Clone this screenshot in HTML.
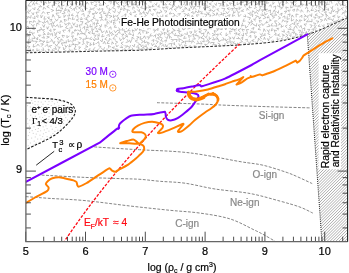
<!DOCTYPE html>
<html><head><meta charset="utf-8"><style>
html,body{margin:0;padding:0;background:#fff;width:349px;height:273px;overflow:hidden}
svg{display:block;font-family:"Liberation Sans",sans-serif;will-change:transform}
</style></head><body>
<svg width="349" height="273" viewBox="0 0 349 273">
<defs><clipPath id="cp"><polygon points="25.9,0.4 347.6,0.4 347.6,17.6 320,29.9 307.3,34.4 280,41 240,44.9 180,47.9 140,50.2 100,51.1 65,52 25.9,52.8"/></clipPath>
<clipPath id="ch"><polygon points="307.3,34.4 320,29.9 347.6,17.6 347.6,241.7 321.9,241.7"/></clipPath>
<clipPath id="plot"><rect x="25.9" y="0.4" width="321.7" height="241.3"/></clipPath></defs>
<rect width="349" height="273" fill="#fff"/>
<path d="M128.45,3.93L127.95,6.95L130.56,6.57M135.02,8.44L133.04,6.73L132.68,9.45M132.77,12.5L135.81,12L133.75,10.37M129.84,10.51L127.33,9.66L127.34,12.78M134.54,2.32L132.88,5.01L135.78,4.44M137.7,2.33L139.95,3.66L139.26,1.25M126.54,9.57L123.93,8.29L123.84,11M129.19,13.44L131.27,15.06L130.63,11.85M129.76,3.58L129.83,0.89L127.18,1.84M139,4.56L136.65,6.56L138.99,8.12M137.21,9.47L139.19,11.66L139.65,9.18M142.48,5.88L140.71,7.72L143.67,8.52M125.56,17.17L127.49,19.45L128.52,16.48M136.8,14.38L134.43,16.05L136.73,17.06M124.61,3.87L126.82,2.02L123.86,1.75M122.45,22.98L125.07,24.41L124.9,21.25M131.74,19.92L133.71,18.34L130.5,17.77M125.29,16.95L126.02,13.76L123.63,15.48M122.99,5.1L124.08,7.48L125.62,4.94M117.52,11.81L119.39,13.54L120.43,10.91M130.29,-2.75L129.73,0.21L132.67,-0.76M139.95,20L138.75,17.2L136.6,19.63M118.54,8.46L119.59,5.84L116.97,7.01M112.46,10.94L114.78,12.54L115.58,9.43M147.03,4.4L144.65,2.17L144.45,4.74M137.02,-0.54L134.52,0.63L136.66,2.42M128.06,24.33L130.31,22.46L127.37,22.44M126.45,28.9L126.63,26.04L123.72,27.07M137.49,-1.29L140.36,-0.34L139.08,-3.23M132.68,25.09L130.72,26.91L133.65,26.98M118.66,14.67L116.5,16.25L119.11,18.14M124.86,0.56L127.84,-0.66L125.63,-1.97M144.21,10.62L142.71,12.96L145.25,12.75M121.86,21.53L119.02,21.69L120.55,24.01M113.7,14.73L113.39,17.56L115.91,15.51M146.01,-1.57L148.82,-2.26L146.83,-4.15M122.48,15.72L121.15,18.2L124.13,17.24M115.44,25.01L114.28,27.25L116.86,27.34M120.23,20.24L118.04,18.2L116.68,21.08M115.81,23.47L113.4,22.04L113.96,25.16M150.78,11.54L149.89,8.95L148.8,11.58M122.88,27.5L121.87,30.14L125,29.94M144.16,9.02L147.14,7.9L145.08,5.75M148.12,7.99L150.84,7.04L148.15,5.75M134.63,19.55L135.39,22.03L137.04,19.71M123.25,3.51L121.92,0.57L120.36,3.2M136.05,26.88L138.36,25.9L135.57,24.83M143.55,2.36L142.52,-0.49L140.88,2.28M142.27,25.06L139.57,23.4L139.03,26.29M134.48,-1.02L135.77,-3.69L132.68,-2.81M122.84,-2.72L119.94,-1.77L121.47,0.25M153.15,4.47L151.84,6.91L154.38,6.06M120.06,26.31L122.54,27.35L122.37,24.2M144.22,16.88L146.45,15.43L144.24,13.71M134.56,23.38L132.51,21.9L132.44,24.63M150.71,13.47L152.73,15.62L153.29,12.98M121.48,7.22L120.38,9.91L122.71,8.83M139.02,13.99L141.73,14.03L139.74,11.91M143.83,19.4L141.31,21.47L144.24,22.57M149.16,21.24L146.92,23.48L149.57,23.7M134.79,28.21L135.94,30.68L137.78,28.04M114.05,30.25L115.42,32.68L117.53,30.22M129.57,28.44L127.77,30.55L130.72,30.91M116.84,3.82L115.71,1.03L113.41,2.88M109.39,30.55L109.97,33.62L112.48,31.76M149.28,18.53L151.3,20.26L152.33,17.54M156.47,9.26L153.36,9.44L155.64,11.17M124.8,35.46L127.52,37.05L126.48,34.04M131.35,34.29L133.42,36.06L133.46,33.48M111.25,29.56L110.76,26.76L108.39,28.83M110.69,13.65L108.67,11.67L107.5,14.6M159.01,12.69L162.09,11.82L159.9,9.75M129.26,39.83L130.55,42.59L131.54,39.99M125.7,42.55L128.51,41.67L126.88,39.18M145.43,26.17L142.9,25.25L143.42,28.35M134.8,31.09L132.21,29.87L133.09,32.83M117.32,30.39L120.29,30.13L118.56,27.56M122.44,19.91L125.3,20.99L125.13,18.3M108.32,15.14L105.37,15.31L107.78,17.32M127.62,31.87L124.43,31.28L125.6,34.07M159.8,4.83L157.71,6.52L160.23,7.23M148.71,0.88L151.22,2.49L150.8,-0.06M109.09,20.54L111.24,22.73L111.76,20.14M143.26,18.94L141.81,15.98L140.74,19.04M107.54,32.98L106.65,30.48L105.46,33.55M109.31,36.97L109.16,34.43L106.52,35.5M140.76,34.98L139.51,32.1L138.14,34.46M113.24,-2.09L110.82,-1.01L113.25,0.77M111.63,40.3L109.65,38.28L108.8,41.37M121.91,36.35L123.83,34.01L121.27,34.45M154.36,3.42L156.31,5.31L157.01,2.57M145.58,31.04L142.68,30.58L143.16,33.33M151.61,-3.18L152.87,-0.26L154.24,-2.92M142.23,-1.37L144.86,-1.86L143.31,-3.84M114.27,34.98L112.16,33.42L111.67,35.9M127.11,45.64L129.64,47.58L130.54,45.11M120.21,33.91L119.43,31.52L117.33,33.92M136.52,38.63L139.18,37.25L136.57,36.45M146.33,12.03L147.57,14.23L148.57,11.45M134.47,39.27L132.21,36.95L131.82,40.03M150.46,29.29L148.66,26.81L147.78,29.89M142.15,30.37L139.2,29.09L140.14,31.42M146.99,30.85L146.19,33.47L149.01,32.2M108.55,40.79L107.01,43.35L109.54,43.47M115.02,36.21L113.01,38.78L115.73,39.3M107.52,26.49L104.86,24.8L105.32,27.69M145.77,38.79L144.48,35.86L143.01,38.35M152.55,24.6L155.07,24.55L152.67,22.45M128.11,33.8L130.55,34.5L129.43,32.1M131.97,45.11L134.16,46.86L134.71,43.98M109.44,17.99L111.95,16.16L108.77,15.33M114.89,5.59L112.46,7.78L115.4,8.99M117.14,1L117.92,-1.51L114.99,-0.7M119.46,37.68L120.45,40.75L122.56,38.47M100.97,29.57L101.92,32.69L104.54,30.98M165.24,13.25L166.9,10.95L163.94,10.8M102.88,34.01L101.66,36.93L104.54,36.08M119.26,1.89L117.05,3.55L119.15,4.94M107.23,36.99L104.78,39.06L107.33,40.44M99.19,17.6L102.13,17.46L100.96,14.89M156.35,18.56L159.07,17.31L156.8,15.24M154.05,32.63L155.44,30.01L152.87,29.95M146.33,17L146.49,19.55L148.24,17.31M153.74,28.28L152.41,25.78L150.58,27.53M130.02,49.39L133.27,49.88L131.96,47.64M156.62,22.48L155.89,19.32L153.6,20.83M162.75,23.55L161.54,20.99L159.41,23.5M159.93,24.59L160.19,27.32L162.96,25.55M157.73,31.02L158.2,28.39L155.77,30.27M113.81,43.91L112.21,41.77L111.69,44.6M96.62,34.37L99.23,36.17L99.1,33.26M138.04,39.7L135.17,41L137.27,42.56M112.69,20.17L115.08,21.16L114.79,18.2M141.09,43.12L143.44,41.63L141.08,39.92M140.73,36.25L140.03,39.39L142.73,38.5M138.05,49.27L139.04,46.94L135.92,47.07M115.76,44.42L116.83,46.87L118.55,44.92M158.35,25.19L156.38,23.4L155.84,26.6M125.49,48.04L127.33,46.16L124.49,45.79M105.55,44.28L104.51,41.35L102.95,44M159.99,-0.56L161.24,2.49L162.57,-0.16M155.48,37.56L155.57,34.74L153.24,36.56M119.76,50.36L121.96,51.91L122.48,49.17M122.88,36.56L123.49,39.34L125.71,37.27M104.04,11.02L103.68,13.59L106.25,13.21M110.66,4.23L111.51,1.49L108.45,1.88M100,40.23L102.1,41.75L102.62,38.71M109.39,23.65L107.1,21.42L107.03,24.67M119.79,47.2L122.7,47.77L121.21,45.36M159.66,13.65L157.15,11.91L156.87,14.4M123.44,41.82L120.99,43.12L123.39,45.18M160.16,15.87L162.65,17.7L162.85,14.56M167.63,14.83L165.12,15.99L168.05,17.34M117.8,34.49L115.25,35.06L117.4,37.21M126.66,51L124.7,48.59L123.03,51.08M118.55,49.51L115.35,48.82L116.43,51.42M108.78,5.32L105.97,6.5L108.14,8.64M114.92,46.89L112.2,47.51L114.55,48.89M156.62,33.73L158.41,35.7L159.31,33.04M163.26,31.18L164.53,28.73L162.11,29.5M107.03,48.47L106.96,51.47L109.5,50.44M115.04,43.97L117.65,42.09L114.87,40.58M166.67,21.69L165.59,18.68L163.54,20.86M106.31,17.45L104.9,20.05L107.43,19.82M151.15,33.48L149.77,36.22L152.69,35.55M167.27,29.09L167.5,32.19L169.45,30.02M173.94,18.75L171.66,17.68L171.82,20.19M109.38,7.88L109.07,10.6L111.56,8.93M101.11,47.97L103.49,50.13L104.59,47.21M148.12,39.53L149.41,37.02L146.62,36.91M106.12,3.94L103.67,1.91L103.17,5.13M104.52,-2.27L103.24,0.76L105.92,-0.16M165.46,8.05L162.49,7.06L163.75,9.7M169.08,1.6L167.55,-0.77L167.04,2.39M144.55,39.86L144.59,42.84L147.09,41.73M103.36,20.77L101.54,18.54L100.59,21.07M106.22,-3.49L108.23,-1.45L108.32,-4.29M99.15,24.99L100.89,27.05L101.63,24.22M111.2,47.12L108.42,45.43L108.79,48.3M153.19,42.28L154.01,39.66L151.58,40.54M149.74,43.4L147.46,42.25L148.44,45.21M95.79,39.14L98.79,39.32L97.73,36.39M126.58,50.01L129.62,50.65L128.88,48.11M97.09,23.15L98.22,20.16L95.12,20.02M170.61,11.68L169.28,14.06L172.4,13.4M151.75,50.42L151.91,47.8L149.47,48.36M144.53,49.62L143.38,46.75L141.48,49.07M100.74,-1.1L99.13,-3.12L98.57,-0.03M163.91,4.69L166.72,5.02L164.81,2.73M97.13,26.35L94.66,27.23L96.95,28.9M165.98,22.72L164.7,25.5L167.66,24.65M111,48.91L110.9,51.64L113.13,50.26M94.56,15.99L92.99,17.96L95.54,18.45M97.28,0.55L99.32,3.02L99.53,0.41M137.38,45.74L139.83,44.3L137.52,42.18M176.85,8.81L174.3,9.23L176.49,11.59M95.57,11.16L96.14,13.84L98.07,12.12M168.37,7.01L165.67,6.96L167.99,9.22M171.12,1.98L168.82,4.24L171.24,4.94M102.22,11.73L102.99,8.64L100.39,9.26M167.38,25.83L167.87,28.29L169.88,25.77M171.02,20.92L169.01,18.55L167.67,21.03M92.94,-0.11L95.84,-1.62L93.68,-3.67M166.86,33.28L164.09,32.45L164.81,35.21M153.99,46.59L156.9,46.44L154.69,44.67M95.11,31.23L98.17,31.95L96.58,29.48M100.26,3.12L99.37,5.47L102.61,5.11M171.06,21.77L170.71,24.65L173.22,24.23M172.46,31.29L175.32,30.47L172.73,28.97M172.42,4.71L172.49,7.63L174.49,5.33M94.25,25.36L94.41,22.55L92.26,24.28M92.73,38.44L94.51,40.98L95.45,38.18M159.16,40.04L158.25,37.25L156.2,38.98M172.05,10.27L171.34,7.81L168.86,9.77M99.28,44.72L98.47,41.68L96.17,43.84M175.34,18.68L178.01,18.53L176.7,15.64M156.29,-0.06L159.18,0.09L158.61,-2.48M89.81,16.75L87.88,15.06L87.77,17.87M172.52,16.47L175.16,15.53L173.21,13.02M162.19,38.53L160.74,40.59L163.42,41.48M93.53,2.65L90.83,2.16L92.11,5.09M148.82,49.98L147.09,47.39L146.6,49.87M97.16,4.37L94.44,5.55L96.93,6.45M95.11,7.62L92.37,8.77L94.16,10.66M93.72,41.99L93.29,45.08L95.54,43.62M94.28,37.8L95.93,35.44L93.4,34.72M92.09,27.4L91.81,30.47L94.5,28.71M160.34,41.88L159.94,44.45L162.57,42.97M93.34,19.11L90.82,20.36L92.66,22.2M99.3,48.48L100.95,46.55L98.15,45.66M87.64,19.84L88.33,22.31L90.64,20.67M98.93,23.42L96.18,23.42L97.26,26.28M88.61,4.38L87.09,1.91L86.04,4.54M90.15,-2.6L88.09,-0.11L91.24,0.82M159.7,34.51L162.87,33.73L160.78,31.22M97.86,28.75L100.36,30.12L99.88,27.08M164.15,-2.98L166.16,-1.31L165.68,-4.04M160.92,-4.45L161.39,-1.28L163.31,-3.21M151.28,43.2L152.37,45.66L154.25,43.34M95.31,13.13L92.14,13.87L94.8,15.36M159.72,45.95L157.38,47.71L160.3,48.27M155.98,43.91L158.33,41.61L155.46,40.5M164.25,46.9L163.31,44.54L161.26,46.29M143.43,45.76L146.29,46.95L146.02,44.39M141.55,50.36L139.72,48.64L139.55,51.16M90.47,24.23L89.86,27.04L92.75,26.08M84.32,16.65L83.72,13.45L81.42,14.79M88.92,10.24L91.7,9.25L89.75,7.53M97.21,8.56L99,10.37L99.58,7.91M88.78,14.38L90.38,11.54L87.73,11.94M178.95,15.74L180.48,13.46L177.5,14.05M87.51,8.57L84.7,7.65L85.74,10.07M175.45,6.41L177.69,8.02L178.69,5.28M98.44,48.83L97.01,51.72L100.26,51.81M92.71,30.56L92.05,33.55L95.13,33.28M178.53,21.56L177.53,23.93L180.27,23.35M161.17,34.8L159.49,37.15L162.4,38.03M82.44,5.8L85.63,6.54L85.21,3.9M89.42,42.77L86.78,41.68L87.48,44.73M173.01,0.6L174.97,2.21L175.87,-0.34M90.91,31.75L88.14,32.57L90.4,34.06M95.07,47.23L93.15,49.75L96,50.83M90.36,47.98L88.6,50.06L91.43,50.45M165.23,43.95L166.2,47.07L167.79,44.67M179.84,6.05L179.96,8.62L182.54,6.59M178.39,0.18L179.88,2.25L180.33,-0.82M85.73,26.98L88.26,27.96L87.44,24.95M90.81,42.65L89.81,45.62L92.17,44.27M165.62,42.39L166.68,39.79L164.11,41M185.52,5.87L184.53,3.35L182.7,5.11M87.68,22.2L84.88,23.74L87.5,24.38M182.05,19.68L181.35,16.93L179.53,19.12M184.26,16.83L186.48,14.4L183.69,13.35M173.25,-1.24L170.89,-2.64L171.1,0.49M76.26,11.49L77.8,13.47L79.33,11.37M176.84,30.44L179.38,30.43L178.46,27.42M181.64,11.8L184.29,11.27L182.57,9.31M84.56,29.5L84.54,26.37L82.26,28.42M88.84,30.46L86.36,29.01L85.91,32.23M84.32,18.6L87.09,19.85L86.1,17.08M165.08,36.62L167.01,38.57L168.12,35.48M82.07,-1.1L81.06,1.62L83.91,0.3M79.96,33.66L82.63,33.72L81.17,31.04M171.33,45.97L171.72,43.38L168.54,43.94M176.99,23.5L174.11,23.44L175.17,25.78M86.69,35.46L85.92,38.53L88.84,38.21M81.9,24.09L83.01,21.69L80.12,21.56M166.82,34.28L169.27,35.44L168.89,32.47M75.78,0.77L75.26,3.62L77.69,2.33M96.3,3.28L95.92,0.62L93.59,1.82M140.43,44.02L141.32,46.79L142.9,44.61M81.87,44.61L84.29,43.51L82.56,41.59M74.79,26.11L77.46,27.03L77.17,24.07M91.77,37.08L89.52,38.79L92.1,39.73M170.56,26.94L172.94,28.25L173.1,25.45M171.91,41.65L173.7,39.65L170.78,39.41M187.4,9.7L189.86,10.55L189.16,7.97M85.15,47.14L87.91,46.84L85.46,45.01M174.77,48.24L177.39,47.85L175.9,45.53M71.67,-3.7L71.6,-0.52L74.19,-2.13M167.62,46.59L169.25,49.42L169.85,46.78M81.54,6.61L78.6,7.92L80.86,9.39M175.72,32.91L174.46,35.51L177.21,35.38M171.98,38.04L169.58,36.13L169.43,38.64M184.29,-0.25L184.11,2.77L186.3,1.31M86.02,39.08L82.88,39.07L83.74,41.85M82.35,24.72L79.17,25.03L80.34,27.97M176.41,41.99L177.22,39.54L174.18,39.51M78.19,-2.65L80.87,-1.21L81.19,-3.84M85.72,32.95L83.28,33.63L86.04,35.24M78.03,44.22L80.33,42.9L77.78,41.84M74.44,10.94L74.24,8.14L71.94,10.48M81.44,17.07L80.56,19.96L83.1,18.75M179.4,-1.16L181.72,-2.72L178.91,-4.04M79.83,39.92L81.51,38.06L79.1,37.35M80.54,10.76L83.49,11.49L82.09,8.64M181.93,33.73L181.1,36.17L183.53,34.91M188.54,13.01L187.26,16.01L189.88,14.9M78.34,6.33L75.17,7.21L76.83,9.63M71.86,5.46L69.5,7.48L72,8.74M82.82,-3.04L84.58,-0.59L86.25,-2.77M70.09,3.75L72.75,5.16L72.59,2.65M181.35,31.12L178.56,31.75L180.2,34.57M79.16,18.73L76.31,19.99L78.88,21.56M180.78,27.86L179.97,24.87L178.31,27.61M81.32,6.51L80.75,3.29L78.99,5.17M79.1,46.08L79.25,48.61L81.08,46.81M181.59,39.97L178.82,38.69L179.41,41.93M172.47,43.27L174.71,44.7L174.19,42.1M73.17,13.67L71.16,15.24L73.66,15.55M77.96,17.83L77.49,14.84L75.32,16.97M84.01,51.37L86.66,49.6L84.26,48.48M191.84,3.73L189.65,2.26L189.58,5.37M196.32,9.82L194.18,7.41L192.53,10.02M184.21,25.33L183.08,22.54L181.36,24.37M178.81,43.34L179.62,45.99L181.98,43.73M77.67,29.87L80.34,31.34L80.64,28.51M180.81,46.87L183.29,48.51L182.46,45.64M79.44,35.09L77.9,32.79L77.37,35.51M182.4,27.07L183.07,29.99L185.71,28.5M77.6,39.4L75.18,38.37L75.3,41.04M65.47,-2.08L67.79,-0.97L67.68,-3.56M69.98,12.44L68.71,9.6L67.67,12.44M75.54,28.96L74.3,31.15L77.31,30.08M69.38,27.97L72.44,27.92L71.28,25.28M184.25,33.69L187.43,34.41L187.23,31.74M101.75,11.83L99.25,13.14L101.74,14.69M63.9,14.55L64.09,17.44L66.08,14.88M76.45,-2.94L74.68,-0.28L77.48,-0.92M188,41.24L184.97,41.24L185.79,44.15M183.78,9.09L187.01,8.6L184.38,6.7M69.44,32.3L69.83,29.6L67.79,31.25M182.87,18.3L185.63,20.07L185.66,17.53M74.37,33.21L72.25,31.8L71.82,34.57M72.51,22.57L73.79,25.27L75.17,22.74M75.65,46.59L74.01,49.14L76.6,49.43M187.03,-1.67L186.39,-4.23L184.44,-2.24M67.02,15.81L69.61,15.96L69.01,13.47M70.81,24.11L68.73,22.62L68.64,25.32M184.94,35.95L183.65,38.47L186.55,38.04M185.21,23.74L186.94,26.21L187.91,23.16M185.96,21.53L188.89,22.59L188.29,20.15M173.28,34.4L172.1,31.64L170.42,33.95M65.8,6.22L68.43,5.54L66.3,3.79M65.83,7.72L64.58,10.62L67.42,9.66M198.14,13.11L195.73,10.88L194.65,13.59M193.21,6.96L196.12,6.14L194.41,3.5M78.14,52.52L80.72,51.01L78.49,49.84M180.85,36.42L177.83,35.3L178,37.8M187.19,46.05L184.51,44.84L185.64,47.88M193.68,17.77L192.22,15.3L191.12,18.12M197.89,0.34L198.96,3.17L201.26,1.04M189.56,38.91L188.72,41.8L191.85,41.08M191.43,-4.46L190.91,-1.41L193.48,-2.55M193.36,26.05L190.64,26.45L192.61,28.08M67.99,-0.5L69.01,2.21L71.29,0.49M67.36,25.49L65.58,27.87L68.52,28.82M188.23,0.7L190.59,-0.55L187.95,-2.49M181.4,42.73L184.13,41.97L181.6,40.11M193.37,2.53L194.43,-0.19L191.92,-0.07M63.18,2.08L65.99,1.19L63.87,-0.92M190.46,34.03L191.93,31.8L189.2,31.99M190.55,45.01L188.73,46.93L191.47,47M71.19,19.04L68.42,17.74L68.31,20.43M199.49,8.71L199.98,6.15L196.88,6.66M196.71,46.48L193.89,45.75L195.3,48.14M61.68,3.56L61.71,6.23L64.45,5.14M72.95,16.61L72.25,19.44L74.85,19.01M194.77,29.7L194.93,32.72L197.04,30.53M72.23,38.23L73.43,35.77L70.97,36.42M193.69,36.77L193.91,33.89L191.5,35.3M193.3,14.27L193.05,11.57L190.88,12.9M66.99,35.14L66.87,37.74L69.38,36.03M191.22,36.37L188.43,35.4L189.32,38.28M187.52,29.02L190.32,28.16L188.47,25.69M59.9,13.1L61.48,10.48L58.26,10.49M203.68,5.97L205.43,3.5L202.76,4.04M199.3,14.92L196.42,14.85L197.66,17.83M193.78,23.59L193.58,20.62L191.18,21.47M60.18,-0.23L58.63,-2.48L56.92,0.31M64.36,22.73L65.69,25.18L67.64,23M65.92,30.06L62.77,30.29L64.17,32.56M60.2,24.11L60.22,27.22L62.93,26.29M57.96,31.77L60.02,33.77L60.17,30.97M72.01,49.62L72.19,52.26L74.21,50.75M198.89,26.27L198.37,23.58L196.13,25.02M196.63,33.39L195.36,35.63L198.46,35.57M198.19,39.38L200.34,37.34L197.57,36.7M175.11,23.24L176.45,20.25L173.77,19.85M199.16,27.13L199.17,29.91L201.45,28.61M68.19,39.06L68.22,41.82L70.95,40.65M200.57,20.17L197.67,20.2L199.36,22.07M201.08,16.9L203.09,18.9L203.26,16.31M57.73,3.96L60,2.21L57.28,1.28M192.47,39.09L195.46,39L193.31,36.54M54.27,38.33L56.84,36.51L54.19,34.76M203.91,21.6L201,21.9L203.29,23.64M196.09,43.91L198.67,43.52L197.37,40.68M195.33,-2.77L197.34,-0.52L198.12,-3.35M198.87,9.76L198.37,12.22L201.48,11.42M54.17,32.11L55.89,34.75L57.21,31.77M203.92,25.33L206.04,26.94L205.93,23.96M209.38,22.18L209.44,24.99L211.78,23.35M63.52,-3L60.56,-1.63L62.8,0.33M190.41,5.74L191.23,8.36L192.57,5.72M58.82,27.52L57.35,24.62L55.48,26.78M62.26,22.64L60.93,20.42L59.74,23.11M170.63,49.36L173.87,48.84L171.78,46.32M65.07,35.96L62.01,35.2L63.31,37.83M203.38,35.94L204.01,33L201.11,33.93M197.51,17.76L194.74,18.23L196.73,20.22M200.93,45.61L199.43,47.62L202.29,47.05M203.39,7.27L204.71,9.92L206.39,7.09M60.13,37.3L57.07,38.39L59.44,40.52M206.36,11.74L208.28,14.27L209.38,11.85M207.7,3.39L207.28,0.28L204.94,2.09M52.72,36.24L52.28,33.31L49.97,35.23M60.14,7.87L58.76,4.9L57.75,7.44M67.06,20.36L64.09,19.36L65.17,22.04M201.7,41.1L204.22,41.95L203.74,39M58.72,14.93L58.78,17.82L61.11,16.88M63.89,42.21L66.38,43.07L66.21,40.42M205.26,17.19L207.1,14.49L204.12,14.04M54.97,18.64L56.7,21.09L58.19,18.72M207.41,17.52L207.03,20.53L210.02,19.83M204.34,-0.06L202.79,-2.32L201.84,0.25M69.89,44.09L68.79,47.05L71.41,45.88M209.93,-0.35L210.14,-3.3L207.74,-2.42M71.42,41.26L74.12,40.77L72.76,38.49M211.72,9.61L213.72,11.91L215.12,9.75M56.04,-1.14L56.93,-3.72L53.87,-3.29M209.52,17.27L210.99,15.23L208.05,14.5M202.39,11.6L200.84,13.67L203.36,13.77M210.44,-0.34L212.64,1.99L213.56,-1.05M206.92,4.65L207.38,7.75L210.26,6.21M212.2,15.98L214.97,14.6L212.28,12.74M52.52,41.03L53.89,43.61L54.88,41.08M53.36,31.09L55.49,29.42L52.99,29.24M55.15,5.36L52.06,5.19L52.78,7.81M208.65,10.37L211.18,10.92L209.72,8.32M194.63,42.75L192.73,40.54L191.35,43.48M52.18,21.49L53.35,23.83L55.02,21.16M211.59,2.9L209.15,3.8L211.63,5.13M55.34,26.49L53.38,24.77L52.33,27.75M54.9,43.79L56.69,46.13L57.76,43.78M63.47,40.72L60.97,38.85L60.77,41.64M64.67,42.98L61.43,42.94L62.77,45.95M78,44.88L74.8,44.24L75.76,47.04M214.06,25.84L216.81,26.9L215.4,24.26M58,49.65L60.26,47.46L57.54,46.79M50.06,41.35L52.51,40.42L50.74,38.65M71.36,44.79L74,44.35L71.85,42.32M215.43,7.42L212.91,5.61L213.03,8.49M214.44,3.41L216.14,5.51L216.53,2.65M48.83,29.98L51.13,31.57L50.65,28.81M214.55,21.01L214.03,18.12L211.9,20.41M205.62,41.21L208.59,40.79L206.89,38.48M218.74,20.69L216.18,20.33L218.27,22.75M64.88,44.78L65.8,47.13L67.72,45.34M207.48,44.86L204.62,44.11L205.96,46.26M47.23,40.31L46.69,42.86L49.62,41.95M204.14,35.96L206.13,37.73L207.21,35.26M48.41,31.98L47.61,34.67L50.35,33.55M56.67,1.38L53.65,2.6L56.74,3.7M189.87,16.86L187.53,18.3L190.21,19.43M219.18,8.77L216.72,9.37L219.26,11.34M204.96,32.5L206.73,29.77L203.57,29.51M63.22,46.99L63.83,50L65.86,47.59M44.88,29.44L42.33,29.96L44.63,31.64M49.15,5.4L46.82,6.63L49.47,8.11M46.09,9.18L43.72,7.22L43.06,9.71M199.03,43.49L202.11,44.05L200.41,41.33M68.21,50.84L70.74,51.18L69.15,48.55M220.78,23.71L222.51,25.54L222.7,22.66M203.07,25L200.52,24.32L200.76,27.29M51.29,-0.14L54.11,0.79L53.19,-2.24M54.48,17.35L52.96,14.47L52.16,17.43M58.93,12.99L56.1,13.13L57.43,15.72M219.33,16.58L220.67,19.45L221.43,17.01M209.72,34.45L208.04,31.74L207.12,34.64M48.49,47.35L47.25,44.4L45.01,46.72M201.81,30.66L198.85,31.85L201.57,33.22M216.72,-1.87L218,1.17L219.76,-0.85M219.48,29.02L222.28,29.57L221.77,26.5M57.8,40.85L58.66,43.54L59.93,41.24M51.8,26.46L51.63,23.34L48.75,24.56M50.75,21.67L51.93,19.24L49.28,19.98M225.72,21.71L224.8,18.96L223,20.97M211.97,39.56L214.6,39.94L213.1,37.08M226.39,26.21L225.98,23.29L223.56,24.99M230.94,22.94L230.54,20.05L228.05,21.26M211.18,29.4L210.13,26.91L209.05,29.19M65.89,53.37L66.12,50.67L63.23,51.8M52.11,45.36L49.19,46.1L51.2,47.78M46.43,38.42L49.34,37.01L46.61,36.26M216.8,31.16L214.07,30.68L215.27,33.61M228.92,17.14L230.2,14.65L227.14,15.77M219.62,6.54L221.2,3.67L218.01,3.31M46.73,26.67L47.45,29.16L48.9,26.34M236.01,25.64L236.63,22.51L233.82,24.08M210.75,43.63L209.05,41.36L207.79,43.93M48.34,23.68L47.54,20.68L45.1,22.77M212.54,45.34L214.19,42.55L210.93,42.48M50.24,50.38L48.09,49.05L48.86,51.52M42.37,24.6L43.89,27.33L44.91,24.32M212.01,35.99L214.85,34.83L212.04,33.23M39.29,7.52L37.33,9.71L40.25,10.52M53.55,48.47L56.44,49.42L55.08,46.44M38.6,6.68L41.62,6.72L39.55,4.75M47.12,3.5L44.75,2.19L44.41,5.02M209.25,36.6L209.32,39.44L211.35,37.95M233.83,10.6L233.47,13.27L235.83,11.8M37.4,0.71L35.8,3.44L38.32,4.07M54.92,51.11L52.36,49.62L52,52.29M51.42,11.65L53.69,10.42L50.68,9.19M39.3,12.02L36.03,12.3L37.2,14.65M218.11,38.83L218.9,41.67L221.41,40.14M32.35,8.24L34.71,9.67L35.08,7.09M223.16,-1.24L221.31,-2.95L220.53,-0.02M46.76,-1.75L43.97,-0.48L46.25,1.6M224.39,26.95L225.83,29.89L226.81,27.28M221.82,32.19L219.74,33.99L221.95,35.3M217.55,36.48L218.28,33.98L215.38,34.86M44.93,13.57L43.28,11.55L41.48,14.25M56.53,7.83L56.29,11.09L59.26,9.71M216.76,27.87L217.63,30.54L218.98,27.99M60.21,52.25L57.98,50.3L58.32,53.08M41.68,37.45L44.5,38.19L43.38,35.62M225.58,13.71L223.12,13.22L223.34,16.01M232.23,31.49L229.54,31.06L230.24,34.25M48.39,0.36L48.69,3.25L51.19,1.88M229.67,28.12L232.32,29.97L233.08,27.46M41.28,49.8L43.92,50.45L42.94,47.45M226.66,26.41L229.29,28.14L229.69,25.55M232.32,36.83L233.8,39.27L234.82,36.5M230.06,39.63L229.89,42.4L232.75,41.65M41.6,21.87L43.96,23.36L44.71,20.37M39.6,0.93L41.5,2.66L41.78,-0.17M226.34,32.66L225.92,35.92L228.27,34.21M223.56,11.6L224.71,8.54L221.55,8.26M235.72,5.36L233.14,5.63L234.96,8.09M40.67,14.96L41.17,17.88L42.84,15.28M47.77,53.02L45.66,50.68L45.18,53.49M44.74,16.3L43.88,19.28L46.38,18.88M31.59,12.37L33.19,14.88L33.93,12.44M41.17,46.71L43.25,44.16L40.5,43.75M236.29,38.43L239.57,38.73L237.85,36.76M217.97,45.82L220.11,44.25L217.65,43.08M49.93,12.5L46.94,12.48L48.25,14.8M28.16,9.54L29.79,11.64L31.13,9.38M235.87,28.65L238.3,27L235.51,25.8M236.58,30.05L233.61,29.25L235.09,31.71M38.85,41.5L41.54,40.66L38.89,39.41M228.73,39.31L231.11,38.2L228.49,36.58M239.4,42.72L242.49,41.69L240.17,39.61M219.41,14.87L222.12,14.41L220.98,12.09M36.94,48.35L36.98,51.08L39.43,49.74M218.45,15.46L217.04,12.74L216.03,15.82M42.79,34.29L45.39,34.36L43.05,32.17M38.91,15.87L36.33,15.97L38.12,17.89M231.45,43.02L229.81,45.5L232.77,44.86M235.42,16.74L235.73,19.26L237.33,16.96M39.45,24.32L36.82,23.23L36.54,26.33M42.31,51.89L39.19,51.13L40.92,53.9M215.27,47.86L216.43,44.89L213.49,44.66M43.05,-4.12L41.15,-2.15L44.27,-1.34M49.32,-3.39L48.43,-0.34L50.77,-1.8M34.28,27.28L32.1,28.8L34.8,29.75M221.45,40.08L224.3,39.82L222.73,37.21M37.61,22.14L40.45,21.63L37.9,19.84M235.71,35.47L236.95,32.75L234.08,33.59M247.07,41.83L247.45,39.26L244.92,39.87M221.58,5.62L224.22,6.38L223.29,4.01M60.43,8.49L62.88,9.03L61.24,6.56M34.73,5.45L33.61,2.71L32.18,5.32M42.61,43.53L44.76,41.05L41.81,41.37M242.52,39.99L242.79,36.91L240.73,38.62M230.33,25.6L233.4,25.82L232.42,23.41M232.87,18.99L231.95,21.34L234.97,20.68M61.85,13.65L65.1,13.12L63.52,11.02M38.89,29.77L41.8,29.5L40.54,27.01M225.07,38.44L225.97,41.02L228.02,38.79M34.17,51.88L33.17,49.22L31.69,51.55M240.16,33.47L237.66,34.29L240.26,35.54M47.17,16.8L49.04,18.99L49.03,16.43M231.88,10.94L233.39,8.25L230.19,9.03M32.31,17.85L35.14,18.59L34.59,15.91M39.63,46.34L37.91,44.08L36.35,46.38M239.19,6.7L239.13,9.52L241.38,7.17M227.88,18.16L225.69,16.08L225.21,19.06M28.16,16.23L30.57,18.18L31.23,15.08M225.65,11.35L227.34,13.65L229.19,11.27M33.72,44.13L33.08,47.04L35.52,46.22M222.03,45.14L225.14,45.83L224.91,43.05M36.43,51.05L34.37,52.72L37.16,54.27M244.89,29.85L241.86,29.11L243.22,31.63M247.2,4.63L244.17,4.78L245.68,7.29M229.11,41.88L226.38,41.94L228.13,43.96M238.97,20.14L238.11,22.84L241.13,22.43M234.66,41.23L232.78,42.91L235.89,43.6M24.58,17.85L24.57,14.63L22.04,16.29M35,-0.59L38.13,-1.47L36.42,-3.38M41.21,35.31L38.33,35.05L40.1,36.98M32.07,21.79L29.38,21.35L29.87,23.88M29.94,2.84L32.3,1.11L29.83,0.7M29.76,3.12L28.07,5.82L31.24,6.15M247.98,32.95L245.34,33.46L247.09,35.95M28.14,-4.17L27.65,-1.01L29.67,-2.49M223.28,0.29L222.75,3.03L225.6,1.94M231.91,1.05L234.02,2.69L234.36,-0.34M202.99,35.84L201.02,38.05L204.24,38.61M26.98,8.99L26.61,6.14L24.71,7.9M239.59,44.66L237.39,43.01L236.91,45.97M245.12,45.62L245.7,42.99L243.18,43.19M33.85,41.8L32.17,39.59L31.93,42.09M35.44,43.6L37.18,41.44L34.28,41.2M25.21,19.37L25.17,22.43L27.62,21.71M29.17,13.97L28.05,11.43L25.84,13.34M26.8,42.79L29.04,44.03L28.4,41.23M237.26,10.37L238.41,13.17L240.36,11.36M35.71,37.54L37.34,39.93L37.87,36.94M24.2,11.85L24.33,8.76L21.14,9.59M240.54,28.87L238.09,29.98L240.47,32.24M232.92,13.67L232.39,16.35L234.99,15.18M248.95,29.55L246.42,29.64L247.28,32.33M243.87,9.44L241.29,10.98L243.78,11.5M40.38,30.71L37.23,30.56L37.94,33M225.92,6.09L228.53,5.51L226.08,3.84M242.93,2.65L240.18,2.13L240.45,4.83M243.21,16.13L246,16.88L245.01,14.36M237.92,13.58L238.92,16.62L241.13,14.21M34.85,32.79L32.01,33.55L33.47,35.74M245.04,1.29L247.83,2.39L248,-0.18M33.26,-3.76L30.69,-3.62L32.1,-1.4M21.57,6.91L24.55,5.54L21.96,4.19M26.41,2.18L24.45,0.44L23.92,3.32M242.74,22.69L241.73,25.82L244.17,25.23M31.19,23.94L33.15,26.54L34.33,24.08M250.76,37.86L250.75,35.25L248.56,36.99M249.08,10.43L247.18,8.1L246.73,10.62M244.23,18.52L242.94,21.33L245.45,20.94M35.88,22.01L33.74,20.56L32.97,23.05M231.18,-1.43L233.68,-2.3L231.66,-4.45M240.55,-1.37L238.46,0.05L241.1,0.98M241.24,34.74L243.51,36.04L243.38,32.8M237.4,1.81L237.03,4.85L239.7,3.42M29.2,37.73L29,34.97L26.44,36.78M251.9,-0.23L253.86,2.31L254.22,-0.53M236.15,10.77L237.38,8.37L234.5,8.73M248.42,24.88L250.17,22.76L247.78,21.88M227.38,1.73L227,-1.51L224.7,-0.26M245.15,25.03L245.71,27.92L248.26,25.87M28.8,29.27L28.11,26.07L25.97,27.6M231.22,0.83L229.56,-1.77L228.2,0.72M234.91,-2.88L235.94,-0.55L238.06,-2.68M31.68,38.2L34.82,38.54L34.07,36M256.09,-1.21L258.42,-2.38L255.91,-3.83M30.31,30.35L29.17,32.89L32.41,32.28M249.69,5.4L249.02,7.86L251.7,7.48M246.87,-1.57L245.62,-3.8L244.39,-0.85M253.81,-3.19L250.57,-2.68L252.67,-1.26M251.48,5L250.88,2.01L248.18,3.91M249.71,32.92L252.85,32.07L250.34,30.76M229.57,7.72L227.07,8.49L229.68,10.06M232.46,3.58L229.38,2.83L230.83,5.36M254.38,39.4L251.68,40.67L254.35,41.56M215,39.01L217.95,39.12L216.18,36.68M238.56,26.37L240.63,28.37L241.12,25.33M255.34,4.89L257.75,4.04L255.96,2.3M26.53,-2.19L24.21,-3.24L23.97,-0.43M260.92,2.1L258.65,1.02L258.38,3.75M259.59,-1.67L262.41,-1.44L261.43,-4.38M248.19,41.62L249.83,43.83L250.41,41.32M27.74,48.66L30.08,46.66L27.08,45.89M28.04,50.94L30.8,51.41L30.17,48.55M253.97,8.56L256.38,7.57L254.82,5.57M253.02,30.18L254.04,27.52L251.31,28.78M262.42,6.86L259.85,6.19L260.29,9.22M254.97,12.56L252.62,10.7L251.82,13.85M267.9,9.24L264.92,9.63L266.95,11.56M23.24,42.74L21.75,44.98L24.6,44.28M260.09,27.56L257.95,29.34L260.95,29.97M264.59,11.91L264.97,15.01L267.63,13.44M21.94,49.18L23.37,51.49L24.68,49.19M254.82,35.05L255.41,38.29L256.73,35.99M24.47,54.19L27.19,52.81L24.62,51.3M256.29,9.72L258.85,11.38L259.6,8.98M22.52,39L24.73,41.3L24.82,38.57M23.15,36.44L25.96,36.53L24.41,34.06M29.56,38.09L28.14,40.4L30.73,39.86M33.25,2.43L35.59,0.46L32.91,0.11M254.15,25.47L252.34,23.14L250.6,25.58M262.11,12.38L263.57,9.69L260.81,10.1M25.74,19.18L28.34,17.64L25.7,15.94M247.64,13L249.88,14.26L250.35,11.75M27.13,30.65L25.25,32.89L27.95,33.6M252.42,16.96L252.87,14.5L249.95,15.25M251.61,19.75L250.86,22.52L253.1,21.36M249.12,20.07L250.41,17.69L247.19,16.98M25.74,23.72L22.79,25.1L25.68,26.62M255.67,41.66L256.82,43.96L257.58,41.27M25.6,29.38L24,26.99L23.07,30.08M255.15,18.29L257.68,16.29L255.25,15.42M21.07,31.31L23.78,33.01L23.79,30.14M260.42,14.86L263.48,15.6L262.07,13.21M270.25,13.02L270.52,9.98L267.74,11.16M256.13,19.08L253.58,19.28L255.72,21.25M263.55,6.97L265.72,4.99L263.11,3.92M260.55,40.62L258.5,38.17L258.08,41.11M263.47,-0.9L261.46,1.52L264.47,1.72M253.91,24.64L256.42,26.26L256.76,23.3M256.61,32.25L253.47,31.9L254.78,34.18M265.68,31.56L263.96,28.74L263.42,31.8M265.05,-1.33L267.1,-3.25L264.01,-4.12M259.7,33.43L261.6,35.27L262.65,32.81M271.39,7.36L270.98,4.72L268.8,6.31M272.94,1.49L272.88,4.37L274.68,2.38M261.96,20.94L259.18,20.46L260.1,22.82M262.88,18.86L265.94,17.74L263.68,15.35M269.49,31.78L267.84,33.76L270.28,34.73M213.78,-2.89L216.12,-1.58L215.47,-4.11M258.1,14.23L256.33,11.6L254.62,13.84M275.62,12.64L274.34,9.9L272.85,12.48M266.97,0.73L266.46,3.36L269.13,2.7M275.4,9.48L275.76,6.22L273.25,7.1M262.84,35.79L259.98,36.94L261.79,39.14M265.28,33.07L263.46,35.56L266.02,34.94M267.09,20.8L265.77,23L268.29,22.3M265.45,39.66L264.41,37.25L263.66,39.73M277.07,5.63L279.98,6.9L279.4,3.95M273.2,13.68L270.09,14.19L272.87,15.86M276.49,11.48L278.27,13.25L278.6,10.49M268.91,21.1L271.32,20.31L268.85,18.66M272.49,23.14L270.91,25.67L273.58,26.06M272.55,18.66L274.6,17.14L271.96,16.54M261.31,24.76L258.17,25.15L260.31,27.36M272.28,27.88L271.19,30.89L273.41,29.64M242.37,-0.18L243.29,2.32L245.45,0.24M273.51,15.22L276.79,15.19L274.52,12.84M258.48,16.07L259.52,19.11L260.91,16.81M23.53,47.65L26.64,47.76L25.02,45.64M277.29,20.96L274.63,20.89L275.65,23.7M278.13,19.32L280.53,17.91L278.05,16.36M266.93,29.5L268.46,31.71L269.63,29.38M269.8,-1.08L271.55,0.74L272.87,-1.87M260.72,43.78L263.67,42.68L261.79,40.62M266.66,26.78L269.75,26.36L268.55,23.95M261.64,23.11L262.9,25.57L265.19,23.25M268.58,15.37L267.12,17.94L269.58,17.08M267.34,38.3L268.49,40.83L269.21,38.3M279.27,28.27L276.69,28.48L278.89,30.07M275.95,36L275.9,33.22L274,35.27M274.22,25.7L276.84,26.28L276.43,23.18M280.8,9.53L282.61,7.59L279.62,7.89M23.29,53.84L21.8,56.01L24.46,55.44M278.35,1.37L279.25,3.86L281.6,2.14M277.03,30.8L274.28,30.02L275.04,32.64M269.23,35.98L270.55,38.2L272.38,36.27M284.98,13.71L286.68,10.99L284.01,11.54M285.12,22.05L283.05,19.68L281.87,22.38M279.95,33.72L277.58,35.12L280.55,36.49M281.52,0.93L283.5,2.85L283.8,0.03M275.98,1.11L276.75,-1.64L273.77,-0.53M283.19,37.7L280.88,38.92L283.52,39.56M278.04,25.09L280.48,24.24L278.35,22.53M281.27,15.99L282.14,13.04L279.57,14.6M288.69,39.96L287.75,37.1L286.6,39.62M281.67,24.74L281.02,27.34L283.75,25.77M281.96,3.89L283.09,6.58L283.91,4.01M285.32,37.24L287.95,35.37L285.42,33.7M281.56,31.11L284.48,32.16L283.9,29.51M277.3,37.36L277.26,40L279.57,38.68M287.75,29.19L290.84,29.61L289.52,27.04M271.14,40.87L273.89,42.06L272.94,39.73M288.38,3.5L286.27,1.46L286.18,3.98M276.74,-2.71L279.38,-1.37L279.8,-4.62M290.73,10.07L287.66,10.44L289.79,11.99M289.38,16.7L290.15,13.86L287.36,14.91M293.77,17.37L292.18,14.9L291.2,17.72M285.02,18.69L284.78,15.92L282.46,17.24M280.4,-2.38L282.9,-1.14L282.88,-4.07M295.25,36.78L292.05,37.02L293.64,39.02M288.62,7.83L285.78,6.92L286.46,9.46M287.47,24.92L285.22,26.14L287.17,27.99M291.51,18.08L291.35,21.07L294.13,19.38M285.1,0.33L287.37,-2.05L284.34,-2.32M286.14,23.35L288.16,21.49L285.17,20.97M291.79,24.01L289.49,25.47L291.48,27.05M290.48,-3.04L289.44,-0.44L292.51,-0.17M287.34,16.28L287.02,19.32L289.79,18.66M298.51,14.54L295.95,13.98L296.27,17.26M303.49,12.06L301.21,9.84L300.81,12.45M298.5,21.42L296.34,19.44L295.86,22.62M289.09,33.85L288.72,31.1L286.66,32.66M301.82,17.78L301.87,15.27L299.3,17.12M291.33,29.32L293.73,30.62L294.08,27.72M288.75,34.67L290.83,36.47L290.98,33.28M291.98,23.37L294.83,24.5L294.25,21.74M282.02,36.2L284.49,35.36L281.81,33.87M291.06,4.13L293.28,2.76L290.34,2.09M293.77,11.78L294.72,9.15L292,10.39M290.86,5.28L290.64,7.99L293.44,6.66M296.75,1.38L294.19,0.58L295.25,2.85M299.15,23.07L296.72,23.84L298.74,26.39M300.38,7.62L299.05,5.15L297.89,7.44M297.28,28.43L295.77,25.55L294.2,27.91M299.58,-1.8L300.53,0.57L302.46,-1.49M305.87,-0.92L308.43,-2.81L305.78,-4.73M307.35,2.07L305.4,-0.32L304.1,1.83M296.24,3.57L294.52,5.97L297.75,6.17M292.45,-2.9L295.27,-1.66L294.55,-4.41M302.05,6.43L303.44,4.33L300.53,3.94M293.45,34.11L294.7,31.82L291.61,32.61M297.95,35.04L295.45,33.33L296.03,36.26M299.46,10.69L297.09,8.71L296.75,11.63M312.04,-1.7L311.51,-4.19L309.66,-1.92M307.87,9.07L306.6,6.62L305.3,9.02M299.51,32.93L300.63,30.45L297.95,30.09M301.73,28.29L301.02,25.41L299.46,27.57M307.04,23.86L303.93,24.28L306.13,26.21M302.87,34.85L299.81,34.17L300.6,37.06M302.18,20.59L299.44,19.86L300.26,22.26M311.33,2.35L308.74,3.32L311.51,4.35M304.21,18.2L304.4,20.89L306.44,18.62M303.87,17.05L306.1,15.88L304,14.35M304.59,30.88L304.72,27.84L301.9,29.39M309.73,14.13L311.45,16.61L311.85,13.47M314.79,3.22L315.84,0.17L312.91,1.01M308.69,19.58L306.38,21.76L309.49,21.7M308.36,31.77L309.8,29.42L307.25,29.41M310.51,27.95L312.16,25.29L309.7,24.71M309.98,12.13L307.65,9.85L307.19,12.5M313.52,-1.21L316.57,-1.35L315.16,-4.25M313.84,26.07L315.72,23.45L313.12,22.91M314.36,19.38L316.06,17.51L313.25,17M307.34,34.54L306.33,31.5L305.06,34.42M319.08,1.03L320.74,3.18L321.32,0.58M304.75,4.86L307.45,5.7L306.48,2.77M312.38,8.29L310.97,10.58L313.82,10.18M312.06,7.65L313.7,5.66L310.88,5.55M309.11,21.09L312.02,21.9L311.91,18.9M316.14,7.98L317.25,5.36L314.49,5.33M302.46,30.46L301.46,33.26L304.28,32.6M314.42,11.92L317.16,10.85L314.98,8.66M321.48,7.77L318.94,5.83L319.17,9.02M324.04,4.72L325.64,2.63L322.93,1.66M320.36,9.81L317.94,10.66L320.17,12.82M326.96,0.21L325.66,-2.13L324.35,0.87M319.27,-1.22L322.33,-0.55L321.94,-3.02M321.77,11.45L324.62,10.21L321.95,8.41M317.35,13.45L315.02,15.12L317.74,15.39M310.73,34.62L312.07,31.72L309.4,32.93M326.21,9.24L328.76,10.39L328.13,7.92M316.98,23.35L318.98,21.4L315.92,20.81M312.78,31.48L314.28,28.67L311.57,29.46M318.58,19.01L320.3,16.72L317.33,17.03M316.56,25.45L314.31,27.29L316.63,28.37M319.95,24.56L317.94,26.14L320.67,26.57M309.46,15.58L306.7,16.37L308.36,18.35M320.47,22.37L322.63,19.95L319.98,19.52M317.98,30.26L320.68,31.03L319.63,28.45M321.72,25.09L323.73,26.99L324.03,24.39M327,21.07L325.26,18.29L324.36,20.8M330.48,6.8L332.09,8.83L332.87,5.88M321.14,17.14L323.52,15.14L320.83,13.58M328.45,16.51L326.15,14.26L326.36,17.5M328.78,12.53L331.19,13.64L331.53,10.43M332.51,8.99L333.2,11.92L335.04,9.73M335.56,14.96L332.58,16.33L335.25,17.07M330.31,0.04L330.05,-3.13L327.8,-1.84M326.99,4.56L324.21,6.01L326.47,7.46M331.95,3.59L331.16,0.53L329.04,2.35M334.62,-2.3L334.36,0.9L337.17,0.02M330.4,24.2L327.25,23.48L328.45,26.07M330.52,17.24L327.63,18.68L330.64,19.53M331.02,22.29L331.56,24.79L333.06,22.59M325.44,14.6L326.24,11.52L323.97,12.56M337.86,7.65L338.13,10.58L340.63,9.49M336.75,21.09L333.58,21.52L335.49,24.04M336.98,14.11L338.24,11.53L335.15,11.95M337.86,6.09L336.95,3.62L334.93,5.46M337.73,15.58L338.38,18.16L340.18,15.96M339.14,19.23L336.64,21.14L339.61,22.17M330.97,18.57L332.66,20.9L333.53,18.47M344.67,14.37L343.14,12.16L341.88,14.62M343.62,7.6L341.24,8.47L343.38,10.52M340.5,19.39L343.35,19.75L342.59,17.11M339.67,3.01L340.49,5.58L343,3.9M327.49,1.6L326.59,4.43L329.73,4.16M346.82,8.9L347.35,6.2L344.86,7.49M343.87,3.21L343.45,5.87L346.15,4.94M317.73,31.73L315.45,29.72L315.73,32.78M346.74,2.75L348.05,0.22L345.26,-0.24M346.74,21.97L349.69,20.68L347.67,18.75M340.78,-2.06L339.02,-0.22L342.2,-0.13M350.88,0.75L348.38,2.61L350.97,2.84M345.71,9.72L344.56,12.35L347,11.57M344.58,15.2L346.29,17.13L347.53,14.86M343.39,-3.51L344.61,-0.68L346.6,-2.88M349.96,6.01L348.78,9.02L351.94,8.56M351.75,12.02L348.91,12.03L350.6,14.47M352.48,17.55L349.53,16.88L349.92,19.43M350.53,-1.36L349.73,-4.13L348.69,-1.79M348.49,27.08L349.43,24.06L347.02,24.91M343.57,2.93L343.79,0.11L341.75,2.11M338.05,3.61L339.41,0.82L336.8,0.93M348.9,30.2L346.81,28.16L346.87,30.94M347.08,34.06L349.71,35.16L348.79,32.63M351.92,37.29L349.43,35.96L349.12,38.9M349.54,39.26L346.69,39.19L348.6,41.85M350.5,47.33L348.32,45L347.77,47.58M349.11,42.74L346.53,42.23L346.9,45.2M346,51.16L347.98,48.63L345.24,48.79M347.19,53.42L349.87,53.98L349.56,50.92" fill="none" stroke="#858585" stroke-width="0.5" clip-path="url(#cp)"/>
<path d="M0,0L-260,260M2.9,0L-257.1,260M5.8,0L-254.2,260M8.7,0L-251.3,260M11.6,0L-248.4,260M14.5,0L-245.5,260M17.4,0L-242.6,260M20.3,0L-239.7,260M23.2,0L-236.8,260M26.1,0L-233.9,260M29,0L-231,260M31.9,0L-228.1,260M34.8,0L-225.2,260M37.7,0L-222.3,260M40.6,0L-219.4,260M43.5,0L-216.5,260M46.4,0L-213.6,260M49.3,0L-210.7,260M52.2,0L-207.8,260M55.1,0L-204.9,260M58,0L-202,260M60.9,0L-199.1,260M63.8,0L-196.2,260M66.7,0L-193.3,260M69.6,0L-190.4,260M72.5,0L-187.5,260M75.4,0L-184.6,260M78.3,0L-181.7,260M81.2,0L-178.8,260M84.1,0L-175.9,260M87,0L-173,260M89.9,0L-170.1,260M92.8,0L-167.2,260M95.7,0L-164.3,260M98.6,0L-161.4,260M101.5,0L-158.5,260M104.4,0L-155.6,260M107.3,0L-152.7,260M110.2,0L-149.8,260M113.1,0L-146.9,260M116,0L-144,260M118.9,0L-141.1,260M121.8,0L-138.2,260M124.7,0L-135.3,260M127.6,0L-132.4,260M130.5,0L-129.5,260M133.4,0L-126.6,260M136.3,0L-123.7,260M139.2,0L-120.8,260M142.1,0L-117.9,260M145,0L-115,260M147.9,0L-112.1,260M150.8,0L-109.2,260M153.7,0L-106.3,260M156.6,0L-103.4,260M159.5,0L-100.5,260M162.4,0L-97.6,260M165.3,0L-94.7,260M168.2,0L-91.8,260M171.1,0L-88.9,260M174,0L-86,260M176.9,0L-83.1,260M179.8,0L-80.2,260M182.7,0L-77.3,260M185.6,0L-74.4,260M188.5,0L-71.5,260M191.4,0L-68.6,260M194.3,0L-65.7,260M197.2,0L-62.8,260M200.1,0L-59.9,260M203,0L-57,260M205.9,0L-54.1,260M208.8,0L-51.2,260M211.7,0L-48.3,260M214.6,0L-45.4,260M217.5,0L-42.5,260M220.4,0L-39.6,260M223.3,0L-36.7,260M226.2,0L-33.8,260M229.1,0L-30.9,260M232,0L-28,260M234.9,0L-25.1,260M237.8,0L-22.2,260M240.7,0L-19.3,260M243.6,0L-16.4,260M246.5,0L-13.5,260M249.4,0L-10.6,260M252.3,0L-7.7,260M255.2,0L-4.8,260M258.1,0L-1.9,260M261,0L1,260M263.9,0L3.9,260M266.8,0L6.8,260M269.7,0L9.7,260M272.6,0L12.6,260M275.5,0L15.5,260M278.4,0L18.4,260M281.3,0L21.3,260M284.2,0L24.2,260M287.1,0L27.1,260M290,0L30,260M292.9,0L32.9,260M295.8,0L35.8,260M298.7,0L38.7,260M301.6,0L41.6,260M304.5,0L44.5,260M307.4,0L47.4,260M310.3,0L50.3,260M313.2,0L53.2,260M316.1,0L56.1,260M319,0L59,260M321.9,0L61.9,260M324.8,0L64.8,260M327.7,0L67.7,260M330.6,0L70.6,260M333.5,0L73.5,260M336.4,0L76.4,260M339.3,0L79.3,260M342.2,0L82.2,260M345.1,0L85.1,260M348,0L88,260M350.9,0L90.9,260M353.8,0L93.8,260M356.7,0L96.7,260M359.6,0L99.6,260M362.5,0L102.5,260M365.4,0L105.4,260M368.3,0L108.3,260M371.2,0L111.2,260M374.1,0L114.1,260M377,0L117,260M379.9,0L119.9,260M382.8,0L122.8,260M385.7,0L125.7,260M388.6,0L128.6,260M391.5,0L131.5,260M394.4,0L134.4,260M397.3,0L137.3,260M400.2,0L140.2,260M403.1,0L143.1,260M406,0L146,260M408.9,0L148.9,260M411.8,0L151.8,260M414.7,0L154.7,260M417.6,0L157.6,260M420.5,0L160.5,260M423.4,0L163.4,260M426.3,0L166.3,260M429.2,0L169.2,260M432.1,0L172.1,260M435,0L175,260M437.9,0L177.9,260M440.8,0L180.8,260M443.7,0L183.7,260M446.6,0L186.6,260M449.5,0L189.5,260M452.4,0L192.4,260M455.3,0L195.3,260M458.2,0L198.2,260M461.1,0L201.1,260M464,0L204,260M466.9,0L206.9,260M469.8,0L209.8,260M472.7,0L212.7,260M475.6,0L215.6,260M478.5,0L218.5,260M481.4,0L221.4,260M484.3,0L224.3,260M487.2,0L227.2,260M490.1,0L230.1,260M493,0L233,260M495.9,0L235.9,260M498.8,0L238.8,260M501.7,0L241.7,260M504.6,0L244.6,260M507.5,0L247.5,260M510.4,0L250.4,260M513.3,0L253.3,260M516.2,0L256.2,260M519.1,0L259.1,260M522,0L262,260M524.9,0L264.9,260M527.8,0L267.8,260M530.7,0L270.7,260M533.6,0L273.6,260M536.5,0L276.5,260M539.4,0L279.4,260M542.3,0L282.3,260M545.2,0L285.2,260M548.1,0L288.1,260M551,0L291,260M553.9,0L293.9,260M556.8,0L296.8,260M559.7,0L299.7,260M562.6,0L302.6,260M565.5,0L305.5,260M568.4,0L308.4,260M571.3,0L311.3,260M574.2,0L314.2,260M577.1,0L317.1,260M580,0L320,260M582.9,0L322.9,260M585.8,0L325.8,260M588.7,0L328.7,260M591.6,0L331.6,260M594.5,0L334.5,260M597.4,0L337.4,260M600.3,0L340.3,260M603.2,0L343.2,260M606.1,0L346.1,260M609,0L349,260M611.9,0L351.9,260M614.8,0L354.8,260M617.7,0L357.7,260M620.6,0L360.6,260M623.5,0L363.5,260M626.4,0L366.4,260M629.3,0L369.3,260M632.2,0L372.2,260M635.1,0L375.1,260M638,0L378,260M640.9,0L380.9,260M643.8,0L383.8,260M646.7,0L386.7,260M649.6,0L389.6,260M652.5,0L392.5,260M655.4,0L395.4,260M658.3,0L398.3,260M661.2,0L401.2,260M664.1,0L404.1,260M667,0L407,260M669.9,0L409.9,260M672.8,0L412.8,260M675.7,0L415.7,260M678.6,0L418.6,260M681.5,0L421.5,260M684.4,0L424.4,260M687.3,0L427.3,260M690.2,0L430.2,260M693.1,0L433.1,260M696,0L436,260M698.9,0L438.9,260" fill="none" stroke="#8a8a8a" stroke-width="0.7" clip-path="url(#ch)"/>
<path d="M35.36,129.5h0.3M40.47,130.8h0.3M39.82,135.19h0.3M39.98,126.12h0.3M36.87,125.6h0.3M36.14,134.1h0.3M32.05,130.69h0.3M33.09,133.37h0.3M44.18,129.95h0.3M38.7,121.88h0.3M29.41,132.35h0.3M34.72,123.12h0.3M31.87,124.33h0.3M41.5,122.56h0.3M33.85,126.84h0.3M32.54,120.32h0.3M28.23,135.58h0.3M42.51,136.66h0.3M31.45,138.07h0.3M35.13,136.96h0.3M37.48,119.03h0.3M44.12,139.26h0.3M37.79,131.49h0.3M37.48,139.08h0.3M35.93,143.18h0.3M46.99,128.71h0.3M34.09,141.14h0.3M29.33,126.19h0.3M27.96,139.55h0.3M42.37,117.48h0.3M45.74,125.79h0.3M44.87,119.73h0.3M27.63,123.7h0.3M48.8,131.18h0.3M38.98,142.4h0.3M47.63,121.96h0.3M30.3,143.01h0.3M50.86,126.19h0.3M43.3,133.85h0.3M55.77,127.42h0.3M39.67,117.05h0.3M47,136.64h0.3M51.07,121.87h0.3M33.81,145.07h0.3M48.65,119.4h0.3M43.06,126.84h0.3M44.69,115.39h0.3M28.08,145.71h0.3M49.04,113.1h0.3M44.92,110.58h0.3M41.36,113.41h0.3M38.23,128.52h0.3M44.8,123.08h0.3M52.2,129.23h0.3M27.17,118.73h0.3M52.91,119.19h0.3M29.32,129.59h0.3M38.52,114.08h0.3M48.94,116.66h0.3M41.42,106.58h0.3M58.4,123.93h0.3M29.63,120.14h0.3M40.77,138.98h0.3M31.28,146.4h0.3M45.79,132.47h0.3M50.85,135.66h0.3M28.19,148.58h0.3M47.75,108.58h0.3M35.29,116.28h0.3M52.14,115.42h0.3M55.41,120.7h0.3M47.89,104.51h0.3M57.93,118.85h0.3M59.55,121.18h0.3M52.85,133.56h0.3M55.51,116.11h0.3M60.29,125.99h0.3M59.01,113.4h0.3M38.35,108.97h0.3M41.13,119.88h0.3M37.73,104.87h0.3M53.85,123.38h0.3M30.5,115.16h0.3M53.72,111.32h0.3M57.61,130.18h0.3M32.76,111.75h0.3M30.2,107.03h0.3M58.92,109.07h0.3M63.18,123.69h0.3M60.82,129.05h0.3M45.8,106.68h0.3M63.86,127.27h0.3M34.86,101.5h0.3M42.02,109.92h0.3M60.52,116.62h0.3M41.11,102.12h0.3M50.13,109.86h0.3M56.53,133.69h0.3M42.89,104.27h0.3M54.74,131.37h0.3M32.22,117.24h0.3M38.12,101.79h0.3M28.78,111.15h0.3M35.6,112.48h0.3M45.22,101.4h0.3M37.7,98.33h0.3M34.75,109.22h0.3M34.95,104.76h0.3M42.47,99.08h0.3M56.74,111.19h0.3M61.72,110.51h0.3M51.17,105.49h0.3M33.23,106.95h0.3M56.06,106.75h0.3M63.71,120.38h0.3M52.39,108.05h0.3M62.03,105.38h0.3M57.32,102.24h0.3M34.88,98.2h0.3M64.02,102.27h0.3M68.02,123.03h0.3M29.57,103.28h0.3M47.51,99.12h0.3M54.34,103.84h0.3M58.72,105.86h0.3M68.11,103.82h0.3M52.03,101.44h0.3M27.37,105.66h0.3M48.82,101.62h0.3M50.38,99.1h0.3M64.39,115.09h0.3M54.78,99.54h0.3M31.5,100.61h0.3M65.55,117.63h0.3M67.3,106.6h0.3M61.01,101.54h0.3M70.01,106.7h0.3M30.24,97.93h0.3M64.28,108.34h0.3M31.1,109.61h0.3M27.5,97.44h0.3M32.49,103.18h0.3M67.24,111.79h0.3M73.33,109.9h0.3M67.37,119.95h0.3M61.99,113.43h0.3M70.54,110.68h0.3M67.79,114.73h0.3M64.45,111.79h0.3M71.52,114.36h0.3M70.99,117.36h0.3M70.07,120.23h0.3M74.43,112.81h0.3M64.83,105.3h0.3M65.87,124.71h0.3" fill="none" stroke="#b4b4b4" stroke-width="0.6" stroke-linecap="round"/>
<path d="M25.9,52.8 C32.42,52.67 52.65,52.28 65,52 C77.35,51.72 87.5,51.4 100,51.1 C112.5,50.8 126.67,50.73 140,50.2 C153.33,49.67 163.33,48.78 180,47.9 C196.67,47.02 223.33,46.05 240,44.9 C256.67,43.75 268.78,42.75 280,41 C291.22,39.25 300.63,36.25 307.3,34.4 C313.97,32.55 313.28,32.7 320,29.9 C326.72,27.1 343,19.65 347.6,17.6" fill="none" stroke="#2a2a2a" stroke-width="1.0" stroke-dasharray="2.6 1.5"/>
<path d="M307.3,34.4L321.9,241.7" fill="none" stroke="#111" stroke-width="1" stroke-dasharray="0.9 1.2"/>
<path d="M25.9,97.3 C28.25,97.45 35.2,97.87 40,98.2 C44.8,98.53 50.55,98.77 54.7,99.3 C58.85,99.83 62.1,100.55 64.9,101.4 C67.7,102.25 69.82,103.07 71.5,104.4 C73.18,105.73 74.42,107.9 75,109.4 C75.58,110.9 75.4,111.98 75,113.4 C74.6,114.82 73.8,116.2 72.6,117.9 C71.4,119.6 69.43,121.82 67.8,123.6 C66.17,125.38 64.85,126.77 62.8,128.6 C60.75,130.43 58.47,132.6 55.5,134.6 C52.53,136.6 48.42,138.82 45,140.6 C41.58,142.38 38.18,143.77 35,145.3 C31.82,146.83 27.42,149.05 25.9,149.8" fill="none" stroke="#1a1a1a" stroke-width="1.1" stroke-dasharray="2.6 1.5"/>
<path d="M157,102.7 C164.17,102.92 188.67,103.58 200,104 C211.33,104.42 214.17,104.77 225,105.2 C235.83,105.63 250.72,106.15 265,106.6 C279.28,107.05 303.08,107.68 310.7,107.9" fill="none" stroke="#858585" stroke-width="1" stroke-dasharray="2.9 1.5"/>
<path d="M94.3,146.9 C99.92,147.27 119.55,148.58 128,149.1 C136.45,149.62 134.67,149.37 145,150 C155.33,150.63 174.17,150.97 190,152.9 C205.83,154.83 227.85,159.55 240,161.6 C252.15,163.65 255.27,163.45 262.9,165.2 C270.53,166.95 280.07,170.18 285.8,172.1 C291.53,174.02 292.9,174.78 297.3,176.7 C301.7,178.62 309.72,182.45 312.2,183.6" fill="none" stroke="#858585" stroke-width="1" stroke-dasharray="2.9 1.5"/>
<path d="M41.7,175.1 C48.92,175.48 71.95,176.82 85,177.4 C98.05,177.98 110.83,178.28 120,178.6 C129.17,178.92 133.33,178.85 140,179.3 C146.67,179.75 152.5,180.65 160,181.3 C167.5,181.95 175.83,181.92 185,183.2 C194.17,184.48 204.17,187.28 215,189 C225.83,190.72 239.17,191.48 250,193.5 C260.83,195.52 271.67,198.83 280,201.1 C288.33,203.37 294.53,205.1 300,207.1 C305.47,209.1 310.67,212.1 312.8,213.1" fill="none" stroke="#858585" stroke-width="1" stroke-dasharray="2.9 1.5"/>
<path d="M25.9,196.6 C29.92,196.9 40.15,197.73 50,198.4 C59.85,199.07 71.67,199.33 85,200.6 C98.33,201.87 115.83,204.38 130,206 C144.17,207.62 158.33,209.12 170,210.3 C181.67,211.48 190,211.67 200,213.1 C210,214.53 220.95,216.08 230,218.9 C239.05,221.72 248.57,227.3 254.3,230 C260.03,232.7 260.82,233.15 264.4,235.1 C267.98,237.05 273.9,240.6 275.8,241.7" fill="none" stroke="#858585" stroke-width="1" stroke-dasharray="2.9 1.5"/>
<path d="M63.2,242.89 C65.87,239.08 73.89,227.42 79.24,220.02 C84.58,212.62 89.93,205.47 95.27,198.5 C100.62,191.53 105.96,184.78 111.31,178.19 C116.65,171.6 122,165.21 127.35,158.97 C132.69,152.72 138.04,146.65 143.38,140.7 C148.73,134.75 154.07,128.96 159.42,123.26 C164.76,117.56 170.11,112 175.45,106.52 C180.8,101.03 186.15,95.66 191.49,90.34 C196.84,85.02 202.18,79.8 207.53,74.6 C212.87,69.41 218.22,64.29 223.56,59.18 C228.91,54.06 236.93,46.47 239.6,43.93" fill="none" stroke="#ff0a14" stroke-width="1.3" stroke-dasharray="2.9 1.5" clip-path="url(#plot)"/>
<g clip-path="url(#plot)">
<path d="M25.9,181.8 C34.51,177.24 99.7,142.7 99.7,142.7 C99.7,142.7 114.43,130.71 116.6,129.1 C118.77,127.49 118,129.05 118.3,128.9 C118.6,128.75 119.14,128.1 119.2,127.8 C119.26,127.5 118.72,126.79 118.8,126.3 C118.88,125.81 119.47,124.19 119.9,123.6 C120.33,123 121.79,121.78 122.5,121.2 C123.21,120.62 125.02,119.23 126,118.6 C126.98,117.97 129.3,116.24 130.9,115.8 C132.5,115.36 137.82,114.94 139.7,114.8 C141.58,114.66 145.3,114.7 147,114.6 C148.7,114.49 152.76,114.13 154.3,113.9 C155.84,113.67 158.95,112.84 160.2,112.6 C161.45,112.35 165,111.8 165,111.8 C165,111.8 165.5,113.02 165.6,113.6 C165.7,114.18 165.67,116.1 165.9,116.8 C166.13,117.5 166.92,119.19 167.6,119.6 C168.28,120.01 170.53,120.46 171.7,120.3 C172.87,120.14 176.06,119.08 177.6,118.2 C179.14,117.33 183.28,114.11 184.9,112.8 C186.52,111.49 190.13,108.52 191.5,107 C192.87,105.48 195.77,101.06 196.6,99.8 C197.43,98.54 198.61,96.88 198.6,96.2 C198.59,95.52 197.55,94.42 196.5,94 C195.45,93.58 191.29,92.83 189.6,92.6 C187.91,92.37 183.45,92.16 182,92 C180.55,91.84 177.74,91.56 177.2,91.2 C176.66,90.84 176.68,89.25 177.4,88.9 C178.12,88.55 181.71,88.47 183.4,88.2 C185.09,87.93 189.97,86.98 191.9,86.6 C193.83,86.21 198.84,84.92 199.9,84.9 C200.96,84.88 200.6,86.28 201,86.4 C201.4,86.52 201.82,86.36 203.3,85.9 C204.78,85.45 211.17,83.35 213.7,82.5 C216.23,81.65 220.58,80.64 225,78.6 C229.42,76.56 247.52,67.15 251.6,65 C255.68,62.85 253.5,63.78 260,60.2 C266.5,56.62 301.78,37.32 307.3,34.3" fill="none" stroke="#7a00ff" stroke-width="2" stroke-linejoin="round" stroke-linecap="round"/>
<path d="M25.9,203 C26.96,202.36 32.54,198.89 35,197.5 C37.46,196.11 45.41,192.25 47,191.1 C48.59,189.94 48.74,188.43 48.6,187.6 C48.46,186.77 45.81,184.83 45.8,184 C45.79,183.17 47.73,181.16 48.5,180.5 C49.27,179.84 51.2,178.67 52.4,178.3 C53.6,177.93 57.41,177.31 58.8,177.3 C60.19,177.29 62.58,177.84 64.3,178.2 C66.02,178.56 72.08,179.96 73.5,180.4 C74.92,180.84 76.05,181.42 76.5,182 C76.95,182.58 77.11,184.86 77.4,185.4 C77.69,185.94 77.92,186.88 79,186.6 C80.08,186.32 84.78,184.11 86.7,183 C88.62,181.89 93.45,178.47 95.5,177.1 C97.55,175.73 102.67,172.33 104.3,171.3 C105.93,170.27 108.64,168.42 109.5,168.3 C110.36,168.18 111.02,169.89 111.7,170.3 C112.38,170.71 114.45,171.88 115.3,171.8 C116.15,171.72 117.5,170.44 119,169.6 C120.5,168.76 126.23,165.88 128.2,164.6 C130.17,163.32 134.55,159.74 135.9,158.6 C137.25,157.46 138.96,155.63 139.8,154.8 C140.64,153.97 142.59,152.27 143.1,151.5 C143.61,150.73 144.2,148.91 144.2,148.2 C144.2,147.49 143.68,145.91 143.1,145.4 C142.52,144.89 139.91,143.99 139.2,143.8 C138.49,143.61 138.16,143.86 137,143.8 C135.84,143.74 131.26,143.37 129.3,143.3 C127.34,143.23 120.46,143.47 120.2,143.2 C119.94,142.93 125.58,141.44 127.1,141 C128.62,140.56 132.1,139.33 133.2,139.4 C134.3,139.47 135.8,141.09 136.5,141.6 C137.2,142.11 138.63,143.74 139.2,143.8 C139.77,143.86 140.82,142.61 141.4,142.1 C141.98,141.59 143.69,140.04 144.2,139.4 C144.71,138.76 145.74,137.24 145.8,136.6 C145.86,135.96 145.21,134.41 144.7,133.9 C144.19,133.39 142.58,132.39 141.4,132.2 C140.22,132.01 135.65,132.36 134.6,132.3 C133.55,132.24 132.53,132.08 132.4,131.7 C132.27,131.31 132.86,129.7 133.5,129 C134.14,128.3 136.62,126.41 137.9,125.7 C139.18,124.99 142.83,123.36 144.5,122.9 C146.17,122.45 150.44,121.75 152.2,121.8 C153.96,121.85 158.36,122.89 159.6,123.3 C160.84,123.71 162.47,124.75 162.8,125.3 C163.13,125.85 162.77,127.35 162.4,128 C162.03,128.65 160.11,130.32 159.6,130.9 C159.09,131.48 157.73,132.8 158,133 C158.27,133.2 160.24,133.11 161.9,132.6 C163.56,132.09 169.8,129.6 172.2,128.6 C174.6,127.6 181.23,124.44 182.5,124 C183.77,123.56 183.64,123.94 183.1,124.8 C182.56,125.66 178.1,130.63 177.9,131.4 C177.7,132.17 180.06,132.12 181.4,131.4 C182.74,130.68 187.81,126.53 189.4,125.2 C190.99,123.87 193.18,121.48 195,120 C196.82,118.52 203.13,113.84 205,112.5 C206.87,111.16 209.74,109.43 211,108.5 C212.26,107.57 214.98,105.49 215.8,104.5 C216.62,103.51 217.86,100.99 218,100 C218.14,99.01 217.58,96.75 217,96 C216.42,95.25 213.93,93.81 213,93.6 C212.07,93.39 210.17,93.83 209,94.2 C207.83,94.57 204.28,96.26 203,96.8 C201.72,97.34 199.17,98.61 198,98.8 C196.83,98.99 194,98.77 193,98.4 C192,98.03 189.94,96.31 189.4,95.6 C188.86,94.89 187.57,92.77 188.4,92.3 C189.23,91.83 194.22,91.93 196.5,91.6 C198.78,91.27 205.23,90.15 207.9,89.5 C210.57,88.85 217.41,86.62 219.4,86 C221.4,85.38 223.53,84.71 225,84.2 C226.47,83.69 230.45,82.14 232,81.6 C233.55,81.06 236.98,80.14 238.3,79.6 C239.62,79.06 243.3,77 243.3,77 C243.3,77 236.5,84.6 236.5,84.6 C236.5,84.6 240.63,82.95 241.8,82.3 C242.97,81.65 245.52,79.59 246.5,79 C247.48,78.41 249.71,77.54 250.2,77.2 C250.69,76.86 250.7,76.1 250.7,76.1 C250.7,76.1 251.3,77 251.3,77 C251.3,77 254,76.3 255,76 C256,75.7 259.9,74.4 259.9,74.4 C259.9,74.4 262.3,75.4 262.3,75.4 C262.3,75.4 264.88,74.51 266.3,74 C267.72,73.49 272.39,71.89 274.5,71 C276.61,70.11 281.91,67.61 284.4,66.4 C286.88,65.19 295.8,60.6 295.8,60.6 C295.8,60.6 297.2,62.6 297.2,62.6 C297.2,62.6 299.04,61.54 299.6,61 C300.16,60.46 301.53,58.63 302,58 C302.47,57.37 302.91,56.21 303.6,55.6 C304.29,54.99 306.6,53.64 307.9,52.8 C309.19,51.96 312.62,49.7 314.7,48.4 C316.78,47.1 323.65,42.88 325.7,41.7 C327.75,40.52 331.53,38.7 332.3,38.3" fill="none" stroke="#ff7f00" stroke-width="2" stroke-linejoin="round" stroke-linecap="round"/>
<circle cx="177.6" cy="90.2" r="1.7" fill="#7a00ff"/>
<path d="M217.96,100.05 L218.05,98.64 L217.34,97.41 L216.72,96.01 L216.12,95.71 L214.63,94.72 L213.63,94.63 L213.17,93.39 L212.1,94.42 L210.47,94.3 L208.69,93.96 L207.78,94.55 L206.22,95.27 L204.83,96.02 L203.95,96.91 L202.85,97.33 L201.67,97.95 L200.5,98.4" fill="none" stroke="#ff7f00" stroke-width="2.7" stroke-linejoin="round" stroke-linecap="round"/>
<path d="M188.7,92.4 C188.6,95 189.6,97.2 192.2,98.6 C194.5,99.7 197.5,99.9 200.5,98.6 L203.6,97.2" fill="none" stroke="#ff7f00" stroke-width="3.7" stroke-linejoin="round" stroke-linecap="round"/>
</g>
<path d="M36.2,165.2L54.2,151.3" stroke="#111" stroke-width="0.9"/>
<path d="M25.7,241.7v-10M25.7,0.4v10M43.7,241.7v-5M43.7,0.4v5M54.23,241.7v-5M54.23,0.4v5M61.7,241.7v-5M61.7,0.4v5M67.5,241.7v-5M67.5,0.4v5M72.23,241.7v-5M72.23,0.4v5M76.24,241.7v-5M76.24,0.4v5M79.7,241.7v-5M79.7,0.4v5M82.76,241.7v-5M82.76,0.4v5M85.5,241.7v-10M85.5,0.4v10M103.5,241.7v-5M103.5,0.4v5M114.03,241.7v-5M114.03,0.4v5M121.5,241.7v-5M121.5,0.4v5M127.3,241.7v-5M127.3,0.4v5M132.03,241.7v-5M132.03,0.4v5M136.04,241.7v-5M136.04,0.4v5M139.5,241.7v-5M139.5,0.4v5M142.56,241.7v-5M142.56,0.4v5M145.3,241.7v-10M145.3,0.4v10M163.3,241.7v-5M163.3,0.4v5M173.83,241.7v-5M173.83,0.4v5M181.3,241.7v-5M181.3,0.4v5M187.1,241.7v-5M187.1,0.4v5M191.83,241.7v-5M191.83,0.4v5M195.84,241.7v-5M195.84,0.4v5M199.3,241.7v-5M199.3,0.4v5M202.36,241.7v-5M202.36,0.4v5M205.1,241.7v-10M205.1,0.4v10M223.1,241.7v-5M223.1,0.4v5M233.63,241.7v-5M233.63,0.4v5M241.1,241.7v-5M241.1,0.4v5M246.9,241.7v-5M246.9,0.4v5M251.63,241.7v-5M251.63,0.4v5M255.64,241.7v-5M255.64,0.4v5M259.1,241.7v-5M259.1,0.4v5M262.16,241.7v-5M262.16,0.4v5M264.9,241.7v-10M264.9,0.4v10M282.9,241.7v-5M282.9,0.4v5M293.43,241.7v-5M293.43,0.4v5M300.9,241.7v-5M300.9,0.4v5M306.7,241.7v-5M306.7,0.4v5M311.43,241.7v-5M311.43,0.4v5M315.44,241.7v-5M315.44,0.4v5M318.9,241.7v-5M318.9,0.4v5M321.96,241.7v-5M321.96,0.4v5M324.7,241.7v-10M324.7,0.4v10M342.7,241.7v-5M342.7,0.4v5M25.9,227.93h5M347.6,227.93h-5M25.9,214.09h5M347.6,214.09h-5M25.9,202.78h5M347.6,202.78h-5M25.9,193.22h5M347.6,193.22h-5M25.9,184.94h5M347.6,184.94h-5M25.9,177.63h5M347.6,177.63h-5M25.9,171.1h10M347.6,171.1h-10M25.9,128.11h5M347.6,128.11h-5M25.9,102.97h5M347.6,102.97h-5M25.9,85.13h5M347.6,85.13h-5M25.9,71.29h5M347.6,71.29h-5M25.9,59.98h5M347.6,59.98h-5M25.9,50.42h5M347.6,50.42h-5M25.9,42.14h5M347.6,42.14h-5M25.9,34.83h5M347.6,34.83h-5M25.9,28.3h10M347.6,28.3h-10" fill="none" stroke="#3a3a3a" stroke-width="0.9"/>
<path d="M25.9,0.4V241.7H347.6" fill="none" stroke="#666" stroke-width="1.3"/>
<path d="M25.9,0.4H347.6V241.7" fill="none" stroke="#222" stroke-width="1.1"/>
<g font-family="Liberation Sans, sans-serif" fill="#000" stroke-width="0.2" paint-order="stroke"><text x="25.7" y="254.9" font-size="11" text-anchor="middle" fill="#000" stroke="#000">5</text><text x="85.5" y="254.9" font-size="11" text-anchor="middle" fill="#000" stroke="#000">6</text><text x="145.3" y="254.9" font-size="11" text-anchor="middle" fill="#000" stroke="#000">7</text><text x="205.1" y="254.9" font-size="11" text-anchor="middle" fill="#000" stroke="#000">8</text><text x="264.9" y="254.9" font-size="11" text-anchor="middle" fill="#000" stroke="#000">9</text><text x="324.7" y="254.9" font-size="11" text-anchor="middle" fill="#000" stroke="#000">10</text><text x="22" y="30.5" font-size="11" text-anchor="end" stroke="#000">10</text><text x="22" y="172.9" font-size="11" text-anchor="end" stroke="#000">9</text><text x="182" y="270.6" font-size="10.5" text-anchor="middle" stroke="#000">log (ρ<tspan font-size="7" dy="2">c</tspan><tspan dy="-2"> / g cm</tspan><tspan font-size="7" dy="-4">3</tspan><tspan dy="4">)</tspan></text><text transform="translate(8.5,120.2) rotate(-90)" font-size="10.8" text-anchor="middle" stroke="#000">log (T<tspan font-size="7.5" dy="2.2">c</tspan><tspan dy="-2.2"> / K)</tspan></text><rect x="120" y="17" width="121" height="11" fill="#fff"/><text x="121.1" y="26.1" font-size="10.25" word-spacing="-0.5" stroke="#000">Fe-He Photodisintegration</text><text x="85.6" y="74.7" font-size="10" fill="#7a00ff" stroke="#7a00ff">30 M</text><circle cx="112.8" cy="74.3" r="3.2" fill="none" stroke="#7a00ff" stroke-width="0.8"/><circle cx="112.8" cy="74.3" r="0.7" fill="#7a00ff"/><text x="85.6" y="88.2" font-size="10" fill="#ff7f00" stroke="#ff7f00">15 M</text><circle cx="112.8" cy="87.9" r="3.2" fill="none" stroke="#ff7f00" stroke-width="0.8"/><circle cx="112.8" cy="87.9" r="0.7" fill="#ff7f00"/><text y="112.8" font-size="10" stroke="#000"><tspan x="31.5">e</tspan><tspan x="37.1" y="108.6" font-size="6.2">+</tspan><tspan x="42.4" y="112.8">e</tspan><tspan x="47.5" y="108.9" font-size="7">-</tspan><tspan x="51.7" y="112.8">pairs</tspan></text><text y="124.3" font-size="9" stroke="#000"><tspan x="31.9" font-family="Liberation Serif, serif" font-size="9">Γ</tspan><tspan x="37.2" y="125.8" font-size="6.8">1</tspan><tspan x="41.8" y="124.3">&lt;</tspan><tspan x="49.4" font-size="9.6">4/3</tspan></text><text y="147.6" font-size="9.4" stroke="#000"><tspan x="52.3">T</tspan><tspan x="58.4" y="152.2" font-size="7.6">c</tspan><tspan x="59.3" y="144.9" font-size="7.6">3</tspan><tspan x="67.6" y="147.5" font-size="9.5">∝</tspan><tspan x="76.6" font-size="10">ρ</tspan></text><text x="258.8" y="118.6" font-size="10" fill="#888" stroke="#888">Si-ign</text><text x="252.6" y="178.4" font-size="10" fill="#888" stroke="#888">O-ign</text><text x="230" y="205.5" font-size="10" fill="#888" stroke="#888">Ne-ign</text><text x="175.2" y="226.6" font-size="10" fill="#888" stroke="#888">C-ign</text><text y="225.9" font-size="10.2" fill="#ff0a14" stroke="#ff0a14"><tspan x="84">E</tspan><tspan x="90.6" y="228.6" font-size="7.2">F</tspan><tspan x="94.9" y="225.9">/kT</tspan><tspan x="113.2">≈</tspan><tspan x="121.4">4</tspan></text><rect x="318.6" y="53.2" width="22.4" height="116" fill="#fff"/><text transform="translate(328.6,168.2) rotate(-90)" font-size="10.3" stroke="#000">Rapid electron capture</text><text transform="translate(339.2,167.3) rotate(-90)" font-size="10.12" stroke="#000">and Relativistic Instability</text></g>
</svg>
</body></html>
